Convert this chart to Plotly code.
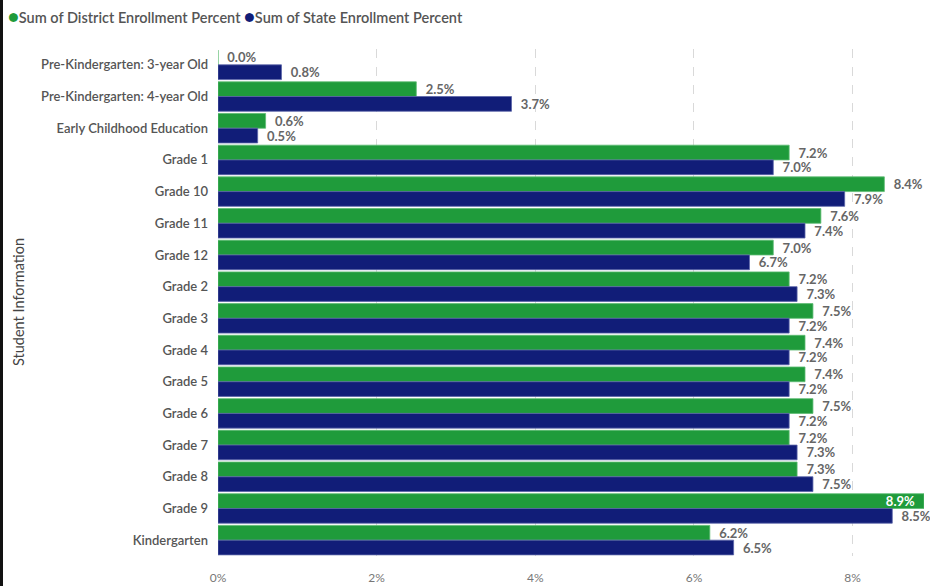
import plotly.graph_objects as go

categories = [
    "Pre-Kindergarten: 3-year Old", "Pre-Kindergarten: 4-year Old", "Early Childhood Education",
    "Grade 1", "Grade 10", "Grade 11", "Grade 12", "Grade 2", "Grade 3", "Grade 4",
    "Grade 5", "Grade 6", "Grade 7", "Grade 8", "Grade 9", "Kindergarten",
]
district = [0.0, 2.5, 0.6, 7.2, 8.4, 7.6, 7.0, 7.2, 7.5, 7.4, 7.4, 7.5, 7.2, 7.3, 8.9, 6.2]
state = [0.8, 3.7, 0.5, 7.0, 7.9, 7.4, 6.7, 7.3, 7.2, 7.2, 7.2, 7.2, 7.3, 7.5, 8.5, 6.5]
tick_vals = [0, 2, 4, 6, 8]
tick_text = ["0%", "2%", "4%", "6%", "8%"]
series_names = ["Sum of District Enrollment Percent", "Sum of State Enrollment Percent"]
axis_title = "Student Information"

GREEN = "#1f9b3b"
NAVY = "#111d78"
LABEL = "#666666"
FONT = "Lato"

W, H = 930, 586
ML, MR, MT, MB = 218, 6, 49, 30
pw = W - ML - MR
ph = H - MT - MB

def px_x(px):
    return (px - ML) / pw

def px_y(py):
    return (MT + ph - py) / ph

INSIDE_MIN = 8.85
d_pos = ["inside" if v >= INSIDE_MIN else "outside" for v in district]
d_tpl = ["%{x:.1f}%  " if p == "inside" else "  %{x:.1f}%" for p in d_pos]

fig = go.Figure()
fig.add_trace(go.Bar(
    y=categories, x=district, orientation="h", name=series_names[0],
    marker=dict(color=GREEN, line=dict(color="#5dbb72", width=0.8)),
    texttemplate=d_tpl, textposition=d_pos,
    insidetextanchor="end",
    insidetextfont=dict(color="white", size=13, family=FONT, weight=700),
    outsidetextfont=dict(color=LABEL, size=13, family=FONT, weight=700),
    constraintext="none", cliponaxis=False, showlegend=False, hoverinfo="skip",
))
fig.add_trace(go.Bar(
    y=categories, x=state, orientation="h", name=series_names[1],
    marker=dict(color=NAVY, line=dict(color="#5a64a8", width=0.8)),
    texttemplate="  %{x:.1f}%", textposition="outside",
    outsidetextfont=dict(color=LABEL, size=13, family=FONT, weight=700),
    constraintext="none", cliponaxis=False, showlegend=False, hoverinfo="skip",
))

legend_html = (
    f"<span style='color:{GREEN};font-size:18px'>●</span>{series_names[0]} "
    f"<span style='color:{NAVY};font-size:18px'>●</span>{series_names[1]}"
)

fig.update_layout(
    width=W, height=H,
    margin=dict(l=ML, r=MR, t=MT, b=MB, autoexpand=False),
    paper_bgcolor="white", plot_bgcolor="white",
    barmode="group", bargap=0.07, bargroupgap=0.0,
    font=dict(family=FONT, size=12, color="#555555"),
    showlegend=False,
    xaxis=dict(range=[0, 8.9], tickvals=tick_vals, ticktext=tick_text, showgrid=True,
               gridcolor="#d9d9d9", griddash="dash", gridwidth=1, zeroline=False,
               tickfont=dict(size=12, color="#777777", family=FONT), ticks="", showline=False,
               ticklabelstandoff=13, fixedrange=True, automargin=False),
    yaxis=dict(categoryorder="array", categoryarray=categories, autorange="reversed",
               tickfont=dict(size=13, color="#555555", family=FONT, weight=600),
               ticks="", showgrid=False, ticklabelstandoff=9, fixedrange=True, automargin=False),
    annotations=[
        dict(text=legend_html, xref="paper", yref="paper", x=px_x(6), y=px_y(16),
             xanchor="left", yanchor="middle", showarrow=False,
             font=dict(size=14.5, color="#555555", family=FONT, weight=600)),
        dict(text=axis_title, xref="paper", yref="paper", x=px_x(18), y=px_y(302),
             xanchor="center", yanchor="middle", textangle=-90, showarrow=False,
             font=dict(size=14.5, color="#444444", family=FONT)),
    ],
    shapes=[dict(type="rect", xref="paper", yref="paper",
                 x0=px_x(0), x1=px_x(3), y0=px_y(H + 2), y1=px_y(-2),
                 fillcolor="#111111", line=dict(width=0), layer="above")],
)

fig.write_html("out.html", config={"displayModeBar": False},
               post_script="document.body.style.margin='0';document.body.style.padding='0';")
